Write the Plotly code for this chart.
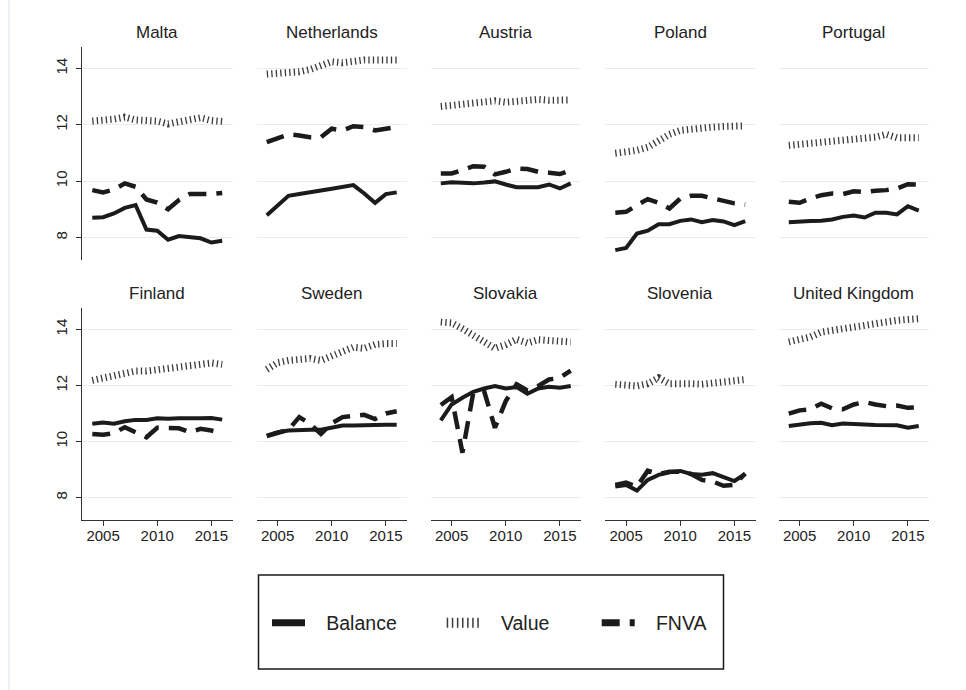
import plotly.graph_objects as go

years = list(range(2004, 2017))
countries = ["Malta", "Netherlands", "Austria", "Poland", "Portugal",
             "Finland", "Sweden", "Slovakia", "Slovenia", "United Kingdom"]

balance = {
    "Malta":          [8.70, 8.72, 8.85, 9.05, 9.15, 8.28, 8.24, 7.92, 8.05, 8.00, 7.97, 7.82, 7.88],
    "Netherlands":    [8.79, 9.15, 9.48, 9.54, 9.59, 9.67, 9.73, 9.80, 9.86, 9.56, 9.23, 9.54, 9.60],
    "Austria":        [9.92, 9.96, 9.94, 9.92, 9.95, 9.99, 9.88, 9.78, 9.78, 9.78, 9.88, 9.74, 9.92],
    "Poland":         [7.55, 7.63, 8.14, 8.24, 8.47, 8.47, 8.59, 8.64, 8.54, 8.62, 8.57, 8.44, 8.58],
    "Portugal":       [8.54, 8.57, 8.58, 8.59, 8.64, 8.73, 8.78, 8.71, 8.88, 8.88, 8.82, 9.11, 8.95],
    "Finland":        [10.63, 10.68, 10.63, 10.72, 10.77, 10.77, 10.83, 10.81, 10.83, 10.82, 10.83, 10.84, 10.78],
    "Sweden":         [10.21, 10.33, 10.39, 10.42, 10.42, 10.42, 10.51, 10.57, 10.57, 10.59, 10.60, 10.60, 10.60],
    "Slovakia":       [10.75, 11.32, 11.56, 11.77, 11.89, 11.98, 11.89, 11.94, 11.70, 11.89, 11.95, 11.92, 11.98],
    "Slovenia":       [8.39, 8.45, 8.25, 8.63, 8.81, 8.90, 8.95, 8.84, 8.81, 8.87, 8.73, 8.59, 8.84],
    "United Kingdom": [10.55, 10.61, 10.65, 10.67, 10.58, 10.64, 10.64, 10.61, 10.59, 10.59, 10.58, 10.49, 10.55],
}
value = {
    "Malta":          [12.13, 12.15, 12.20, 12.27, 12.17, 12.15, 12.13, 12.03, 12.12, 12.15, 12.25, 12.15, 12.12],
    "Netherlands":    [13.80, 13.82, 13.85, 13.88, 13.96, 14.12, 14.24, 14.20, 14.27, 14.30, 14.30, 14.30, 14.30],
    "Austria":        [12.65, 12.70, 12.75, 12.78, 12.82, 12.85, 12.80, 12.85, 12.90, 12.90, 12.87, 12.87, 12.88],
    "Poland":         [10.99, 11.02, 11.09, 11.20, 11.44, 11.66, 11.80, 11.86, 11.90, 11.92, 11.94, 11.96, 11.96],
    "Portugal":       [11.27, 11.30, 11.38, 11.42, 11.44, 11.47, 11.50, 11.54, 11.56, 11.66, 11.54, 11.54, 11.54],
    "Finland":        [12.18, 12.25, 12.33, 12.45, 12.51, 12.51, 12.57, 12.63, 12.66, 12.71, 12.75, 12.80, 12.75],
    "Sweden":         [12.57, 12.81, 12.89, 12.93, 12.96, 12.89, 13.04, 13.19, 13.36, 13.32, 13.46, 13.49, 13.49],
    "Slovakia":       [14.26, 14.23, 14.02, 13.79, 13.51, 13.32, 13.45, 13.64, 13.51, 13.63, 13.60, 13.58, 13.55],
    "Slovenia":       [12.04, 12.01, 11.98, 12.06, 12.27, 12.06, 12.09, 12.06, 12.04, 12.08, 12.18, 12.21, 12.21],
    "United Kingdom": [13.55, 13.61, 13.73, 13.90, 13.94, 14.02, 14.08, 14.14, 14.23, 14.26, 14.32, 14.38, 14.38],
}
fnva = {
    "Malta":          [9.68, 9.60, 9.70, 9.92, 9.80, 9.35, 9.24, 9.00, 9.33, 9.54, 9.54, 9.54, 9.58],
    "Netherlands":    [11.38, 11.50, 11.66, 11.62, 11.56, 11.56, 11.86, 11.80, 11.95, 11.92, 11.80, 11.86, 11.92],
    "Austria":        [10.27, 10.27, 10.39, 10.53, 10.51, 10.24, 10.33, 10.45, 10.43, 10.33, 10.30, 10.25, 10.39],
    "Poland":         [8.88, 8.91, 9.15, 9.36, 9.23, 9.03, 9.38, 9.48, 9.48, 9.38, 9.29, 9.21, 9.17],
    "Portugal":       [9.27, 9.23, 9.38, 9.50, 9.56, 9.54, 9.64, 9.61, 9.66, 9.68, 9.74, 9.89, 9.88],
    "Finland":        [10.27, 10.24, 10.30, 10.51, 10.33, 10.15, 10.49, 10.47, 10.47, 10.33, 10.45, 10.39, 10.30],
    "Sweden":         [10.19, 10.31, 10.42, 10.87, 10.63, 10.27, 10.65, 10.87, 10.90, 10.95, 10.80, 11.00, 11.08],
    "Slovakia":       [11.30, 11.58, 9.60, 11.74, 11.80, 10.49, 11.44, 12.04, 11.82, 11.98, 12.21, 12.27, 12.53],
    "Slovenia":       [8.45, 8.53, 8.39, 8.96, 8.84, 8.92, 8.92, 8.84, 8.63, 8.57, 8.42, 8.45, 8.86],
    "United Kingdom": [10.99, 11.11, 11.15, 11.35, 11.18, 11.15, 11.32, 11.41, 11.32, 11.26, 11.28, 11.20, 11.22],
}
series_names = ["Balance", "Value", "FNVA"]
x_ticks = [2005, 2010, 2015]
y_ticks = [8, 10, 12, 14]

# ---- styling / layout -------------------------------------------------
W, H = 966, 690
FONT = "Liberation Sans, Arial, Helvetica, sans-serif"
TXT = "#222222"
styles = {
    "Balance": dict(color="#1b1b1b", width=4),
    "Value": dict(color="#3a3a3a", width=7, dash="1.3px,3.2px"),
    "FNVA": dict(color="#1b1b1b", width=4.5, dash="18px,10px"),
}
leg_styles = {
    "Balance": dict(color="#1b1b1b", width=7),
    "Value": dict(color="#3a3a3a", width=11, dash="1.5px,3.6px"),
    "FNVA": dict(color="#1b1b1b", width=7, dash="18px,10px"),
}
col_left = [82, 256.5, 430.5, 605, 778.5]
col_w = 150.5
rows_px = [(47, 260), (308, 520)]
title_y = [33, 293]

def px_x(p):
    return p / W

def px_y(p):
    return 1 - p / H

fig = go.Figure()
layout = dict(
    width=W, height=H,
    margin=dict(l=0, r=0, t=0, b=0),
    paper_bgcolor="white", plot_bgcolor="white",
    font=dict(family=FONT, color=TXT),
    annotations=[], shapes=[],
)

for i, c in enumerate(countries):
    r, col = divmod(i, 5)
    n = i + 1
    xa = "xaxis" if n == 1 else f"xaxis{n}"
    ya = "yaxis" if n == 1 else f"yaxis{n}"
    xref = "x" if n == 1 else f"x{n}"
    yref = "y" if n == 1 else f"y{n}"
    top, bot = rows_px[r]
    layout[xa] = dict(
        domain=[px_x(col_left[col]), px_x(col_left[col] + col_w)],
        anchor=yref, range=[2003.05, 2016.95], tickvals=x_ticks,
        showgrid=False, zeroline=False,
        showline=(r == 1), linecolor="#333333", linewidth=1,
        ticks="outside" if r == 1 else "", ticklen=5, tickcolor="#333333",
        showticklabels=(r == 1), tickfont=dict(size=15, color=TXT, family=FONT),
        ticklabelstandoff=-3,
        fixedrange=True,
    )
    layout[ya] = dict(
        domain=[px_y(bot), px_y(top)],
        anchor=xref, range=[7.2, 14.76], tickvals=y_ticks,
        showgrid=True, gridcolor="#e4eef0", gridwidth=1, zeroline=False,
        showline=(col == 0), linecolor="#333333", linewidth=1,
        ticks="outside" if col == 0 else "", ticklen=5, tickcolor="#333333",
        showticklabels=(col == 0), tickangle=-90,
        tickfont=dict(size=15, color=TXT, family=FONT),
        ticklabelstandoff=3,
        fixedrange=True,
    )
    layout["annotations"].append(dict(
        text=c, xref="paper", yref="paper",
        x=px_x(col_left[col] + col_w / 2), y=px_y(title_y[r]),
        xanchor="center", yanchor="middle", showarrow=False,
        font=dict(size=17, color=TXT, family=FONT),
    ))
    for s, data in zip(series_names, [balance, value, fnva]):
        fig.add_trace(go.Scatter(
            x=years, y=data[c], mode="lines", name=s, showlegend=False,
            line=styles[s], xaxis=xref, yaxis=yref, hoverinfo="skip",
        ))

# legend-only traces, one legend each
leg_ids = ["legend", "legend2", "legend3"]
leg_x = [267, 441.7, 596.7]
GAP = "\u00a0\u00a0\u00a0"
for s, lid, lx in zip(series_names, leg_ids, leg_x):
    fig.add_trace(go.Scatter(
        x=[None], y=[None], mode="lines", name=GAP + s, showlegend=True,
        line=leg_styles[s], legend=lid, hoverinfo="skip",
    ))
    layout[lid] = dict(
        x=px_x(lx), y=px_y(623), xanchor="left", yanchor="middle",
        orientation="h", bgcolor="rgba(0,0,0,0)", borderwidth=0,
        font=dict(size=19.5, color=TXT, family=FONT),
        itemwidth=33, itemclick=False, itemdoubleclick=False,
    )

# legend frame
layout["shapes"].append(dict(
    type="rect", xref="paper", yref="paper",
    x0=px_x(258.5), x1=px_x(723.5), y0=px_y(669), y1=px_y(575),
    line=dict(color="#1a1a1a", width=1.5), fillcolor="rgba(0,0,0,0)",
))
# faint outer frame edge
layout["shapes"].append(dict(
    type="line", xref="paper", yref="paper",
    x0=px_x(9), x1=px_x(9), y0=0, y1=1,
    line=dict(color="#e6edf2", width=1.5),
))

fig.update_layout(layout)
fig.write_html("out.html", config={"displayModeBar": False},
               post_script="document.body.style.margin='0';")
